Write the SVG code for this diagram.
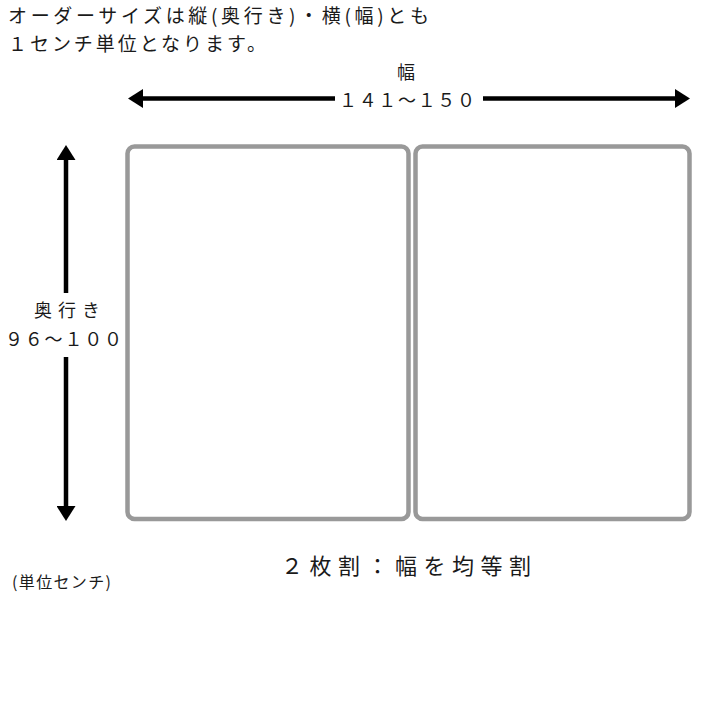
<svg xmlns="http://www.w3.org/2000/svg" width="720" height="720" viewBox="0 0 720 720">
<style>
text{font-family:"Noto Sans CJK JP","Noto Sans",sans-serif;fill:#1a1a1a;}
.t18{font-size:18px;}
.t19{font-size:19px;}
.panel{fill:#fff;stroke:#999;stroke-width:4.5;}
.arr{stroke:#000;stroke-width:4.5;fill:none;marker-end:url(#ah);}
</style>
<defs>
<marker id="ah" viewBox="0 0 15 19" refX="0" refY="9.5" markerWidth="15" markerHeight="19" markerUnits="userSpaceOnUse" orient="auto">
<path d="M0,0 L15,9.5 L0,19 Z" fill="#000"/>
</marker>
</defs>
<rect width="720" height="720" fill="#fff"/>
<g id="note">
<text class="t19" x="8" y="23" textLength="421" lengthAdjust="spacing">オーダーサイズは縦(奥行き)・横(幅)とも</text>
<text class="t19" x="8" y="51" textLength="258" lengthAdjust="spacing">１センチ単位となります。</text>
</g>
<g id="panel-left"><rect class="panel" x="127.5" y="146.5" width="281" height="372.5" rx="7"/></g>
<g id="panel-right"><rect class="panel" x="415.5" y="146.5" width="274" height="372.5" rx="7"/></g>
<g id="connectors">
<line class="arr" x1="335" y1="98.5" x2="143" y2="98.5"/>
<line class="arr" x1="483" y1="98.5" x2="675" y2="98.5"/>
<line class="arr" x1="66" y1="293" x2="66" y2="160"/>
<line class="arr" x1="66" y1="357" x2="66" y2="506"/>
</g>
<g id="label-width">
<text class="t18" x="406" y="79" text-anchor="middle">幅</text>
<text class="t18" x="339" y="107" textLength="136" lengthAdjust="spacing">１４１～１５０</text>
</g>
<g id="label-depth">
<text class="t18" x="34" y="317" textLength="66" lengthAdjust="spacing">奥行き</text>
<text class="t18" x="5" y="346" textLength="117" lengthAdjust="spacing">９６～１００</text>
</g>
<g id="caption">
<text x="281" y="574" style="font-size:22px" textLength="250" lengthAdjust="spacing">２枚割：幅を均等割</text>
</g>
<g id="unit">
<text x="12" y="588" style="font-size:16px" textLength="99" lengthAdjust="spacing">(単位センチ)</text>
</g>
</svg>
